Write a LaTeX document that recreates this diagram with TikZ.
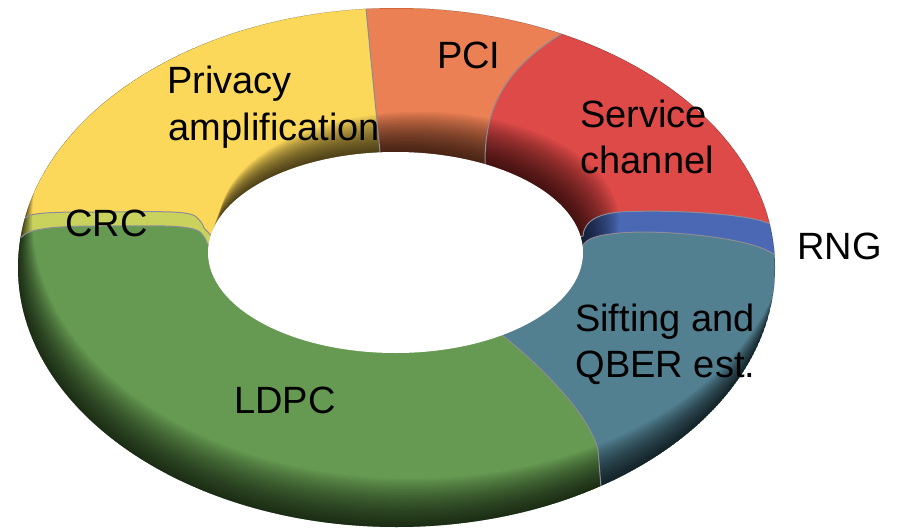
\documentclass[tikz,border=0pt]{standalone}
\usepackage{fontspec}
\setmainfont{Liberation Sans}
\definecolor{privacy}{RGB}{252,216,90}
\definecolor{pci}{RGB}{234,128,84}
\definecolor{service}{RGB}{222,74,72}
\definecolor{rng}{RGB}{74,104,180}
\definecolor{sifting}{RGB}{82,128,144}
\definecolor{ldpc}{RGB}{102,154,82}
\definecolor{crc}{RGB}{200,210,92}
\definecolor{seam}{RGB}{140,140,150}
\begin{document}
\begin{tikzpicture}[x=1pt,y=-1pt,
  lbl/.style={inner sep=0pt, anchor=base west, font=\fontsize{38}{46}\selectfont},
  seamline/.style={draw=seam, line width=1pt}]
\useasboundingbox (0,0) rectangle (908,530);
\begin{scope}
  \clip (396.5,267.5) ellipse [x radius=378.5, y radius=259.5];
  % ring segments
  \fill[privacy] (395,252) -- (225,250) -- (204,228) .. controls (203,224) and (200,220) .. (195,216) .. controls (185,210) and (150,212) .. (100,212) .. controls (60,212) and (30,212) .. (25,218) -- (-10,224) -- (-30,224) -- (-30,-30) -- (362.2,-30) -- (384.7,200) -- cycle;
  \fill[pci] (395,252) -- (384.7,200) -- (362.2,-30) -- (620,-30) -- (600,10) -- (560,35) .. controls (495,75) and (485,120) .. (485,163) -- (485,200) -- cycle;
  \fill[service] (395,252) -- (485,200) -- (485,163) .. controls (485,120) and (495,75) .. (560,35) -- (600,10) -- (620,-30) -- (940,-30) -- (940,236) -- (800,236) -- (768,223) .. controls (745,214) and (680,210) .. (630,211.5) .. controls (600,212) and (584,220) .. (583,236) -- (560,240) -- cycle;
  \fill[rng] (395,252) -- (560,240) -- (583,236) .. controls (584,220) and (600,212) .. (630,211.5) .. controls (680,210) and (745,214) .. (768,223) -- (800,236) -- (800,270) -- (770,252) .. controls (750,240) and (690,232) .. (640,232) .. controls (600,233) and (584,238) .. (582,248) -- (560,255) -- cycle;
  \fill[sifting] (395,252) -- (560,255) -- (582,248) .. controls (584,238) and (600,233) .. (640,232) .. controls (690,232) and (750,240) .. (770,252) -- (800,270) -- (940,270) -- (940,560) -- (602,560) -- (601,487) -- (598,450) .. controls (590,415) and (540,365) .. (502,335) -- (480,318) -- cycle;
  \fill[ldpc] (395,252) -- (480,318) -- (502,335) .. controls (540,365) and (590,415) .. (598,450) -- (601,487) -- (602,560) -- (-30,560) -- (-30,238) -- (-10,238) -- (22,237) .. controls (28,228) and (60,226) .. (100,226) .. controls (150,226) and (190,224) .. (200,232) .. controls (204,236) and (206,240) .. (207,243) -- (225,262) -- cycle;
  \fill[crc] (225,250) -- (204,228) .. controls (203,224) and (200,220) .. (195,216) .. controls (185,210) and (150,212) .. (100,212) .. controls (60,212) and (30,212) .. (25,218) -- (-10,224) -- (-10,238) -- (22,237) .. controls (28,228) and (60,226) .. (100,226) .. controls (150,226) and (190,224) .. (200,232) .. controls (204,236) and (206,240) .. (207,243) -- (225,262) -- cycle;
  % shadow on the inner wall at the back (only above the RNG / Sifting seam)
  \begin{scope}
    \clip (-30,-30) -- (940,-30) -- (940,270) -- (800,270) -- (770,252) .. controls (750,240) and (690,232) .. (640,232) .. controls (600,233) and (584,238) .. (582,248) -- (560,255) -- (-30,255) -- cycle;
    \foreach \k in {1,...,24}
      \fill[black,opacity=0.042] ({395.5+\k},{252.5-1.3*\k}) ellipse [x radius={187.5+0.5*\k}, y radius={100.5+0.375*\k}];
  \end{scope}
  % shade along the lower outer rim
  \foreach \k in {1,...,24}
    \fill[black,opacity=0.045,even odd rule] (396.5,267.5) ellipse [x radius=378.5, y radius=259.5]
      ({396.5+0.6*\k},{267.5-2*\k}) ellipse [x radius=378.5, y radius=259.5];
  % seams between segments
  \draw[seamline] (362.2,-30) -- (384.7,200);
  \draw[seamline] (485,200) -- (485,163) .. controls (485,120) and (495,75) .. (560,35) -- (600,10);
  \draw[seamline] (560,240) -- (583,236) .. controls (584,220) and (600,212) .. (630,211.5) .. controls (680,210) and (745,214) .. (768,223) -- (800,236);
  \draw[seamline] (560,255) -- (582,248) .. controls (584,238) and (600,233) .. (640,232) .. controls (690,232) and (750,240) .. (770,252) -- (800,270);
  \draw[seamline] (480,318) -- (502,335) .. controls (540,365) and (590,415) .. (598,450) -- (601,487) -- (602,560);
  \draw[seamline] (-10,238) -- (22,237) .. controls (28,228) and (60,226) .. (100,226) .. controls (150,226) and (190,224) .. (200,232) .. controls (204,236) and (206,240) .. (207,243) -- (225,262);
  \draw[seamline] (-10,224) -- (25,218) .. controls (30,212) and (60,212) .. (100,212) .. controls (150,212) and (185,210) .. (195,216) .. controls (200,220) and (203,224) .. (204,228) -- (225,250);
\end{scope}
% the hole
\fill[white] (395.5,252.5) ellipse [x radius=187.5, y radius=100.5];
% labels
\node[lbl] (privA) at (167,93) {Privacy};
\node[lbl] (privB) at (168.5,140) {amplification};
\node[lbl] (pci) at (437,68) {PCI};
\node[lbl] (servA) at (580,127) {Service};
\node[lbl] (servB) at (580.5,173) {channel};
\node[lbl] (rng) at (797,259) {RNG};
\node[lbl] (crc) at (65,236) {CRC};
\node[lbl] (siftA) at (575,331) {Sifting and};
\node[lbl] (siftB) at (575.5,377) {QBER est.};
\node[lbl] (ldpc) at (234,413) {LDPC};
\end{tikzpicture}
\end{document}
